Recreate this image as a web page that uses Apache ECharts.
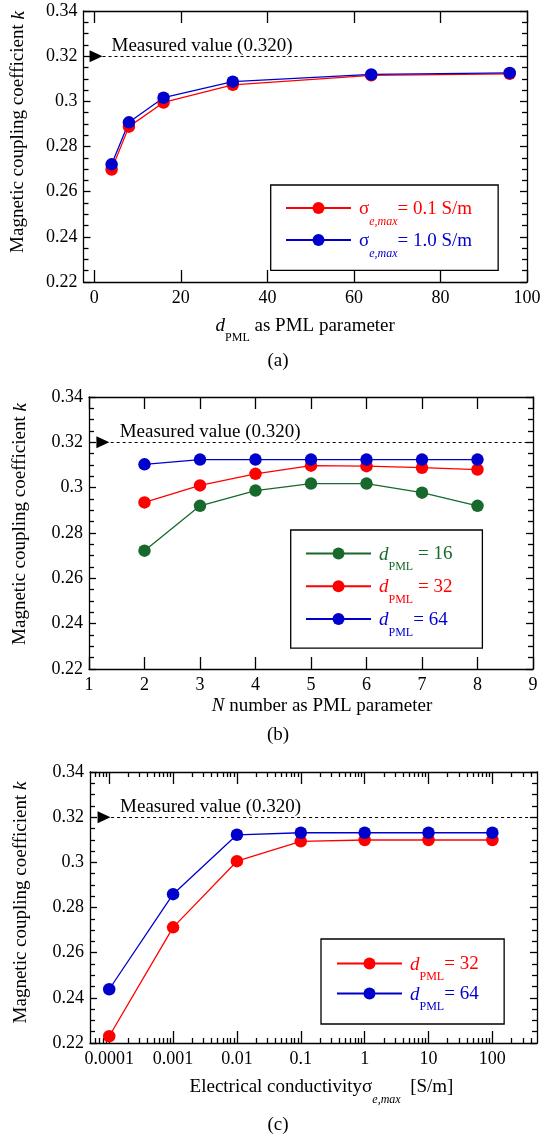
<!DOCTYPE html>
<html>
<head>
<meta charset="utf-8">
<script src="https://cdn.jsdelivr.net/npm/echarts@6/dist/echarts.min.js"></script>
<style>
  html, body { margin: 0; padding: 0; background: #ffffff; }
  #chart { width: 546px; height: 1139px; }
</style>
</head>
<body>
<div id="chart"></div>
<script>
// ---- (a) coupling coefficient against PML thickness d_PML ----
const dPml = [4, 8, 16, 32, 64, 96];
const kSigma01 = [0.2698, 0.2888, 0.2995, 0.3073, 0.3115, 0.3122];
const kSigma10 = [0.2721, 0.2907, 0.3016, 0.3087, 0.3119, 0.3126];
const dPmlTicks = [0, 20, 40, 60, 80, 100];
const dPmlTickLabels = ['0', '20', '40', '60', '80', '100'];

// ---- (b) coupling coefficient against PML order N ----
const nOrder = [2, 3, 4, 5, 6, 7, 8];
const kN_d16 = [0.2722, 0.2920, 0.2987, 0.3018, 0.3018, 0.2978, 0.2920];
const kN_d32 = [0.2935, 0.3010, 0.3061, 0.3097, 0.3095, 0.3088, 0.3080];
const kN_d64 = [0.3103, 0.3124, 0.3124, 0.3124, 0.3124, 0.3124, 0.3124];
const nTicks = [1, 2, 3, 4, 5, 6, 7, 8, 9];
const nTickLabels = ['1', '2', '3', '4', '5', '6', '7', '8', '9'];

// ---- (c) coupling coefficient against maximum conductivity ----
const sigmaMax = [0.0001, 0.001, 0.01, 0.1, 1, 10, 100];
const kS_d32 = [0.2230, 0.2712, 0.3005, 0.3093, 0.3099, 0.3099, 0.3099];
const kS_d64 = [0.2438, 0.2859, 0.3122, 0.3131, 0.3131, 0.3131, 0.3131];
const sigmaTicks = [0.0001, 0.001, 0.01, 0.1, 1, 10, 100];
const sigmaTickLabels = ['0.0001', '0.001', '0.01', '0.1', '1', '10', '100'];

// ---- shared k axis and the measured reference ----
const kTicks = [0.22, 0.24, 0.26, 0.28, 0.30, 0.32, 0.34];
const kTickLabels = ['0.22', '0.24', '0.26', '0.28', '0.3', '0.32', '0.34'];
const MEASURED_K = 0.320;

// ---- styling ----
const FONT = 'Liberation Serif';
const BLACK = '#000000';
const RED = '#ff0000';
const BLUE = '#0000cc';
const GREEN = '#17692c';
const AXIS_W = 1.3;
const COLORS = { r: RED, b: BLUE, g: GREEN };

const chart = echarts.init(document.getElementById('chart'), null, { renderer: 'canvas' });

function pick(labels, ticks) {
  return function (v) {
    const i = ticks.findIndex(t => Math.abs(t - v) <= Math.abs(t) * 1e-6 + 1e-12);
    return i < 0 ? '' : labels[i];
  };
}

// rich-text tokens: main size text and a lowered subscript
function nameRich(subPad) {
  const main = { color: BLACK, fontFamily: FONT, fontSize: 19, height: 22, verticalAlign: 'top' };
  const sub = { color: BLACK, fontFamily: FONT, fontSize: 12, height: 13, verticalAlign: 'top', padding: [subPad, 0, 0, 0] };
  return {
    n: main,
    i: Object.assign({}, main, { fontStyle: 'italic' }),
    sub: sub,
    subi: Object.assign({}, sub, { fontStyle: 'italic' })
  };
}

function legendRich() {
  const rich = {};
  Object.keys(COLORS).forEach(function (k) {
    const c = COLORS[k];
    const main = { color: c, fontFamily: FONT, fontSize: 19, height: 22, verticalAlign: 'top', padding: [10, 0, 0, 0] };
    const sub = { color: c, fontFamily: FONT, fontSize: 12, height: 13, verticalAlign: 'top', padding: [27, 0, 0, 0] };
    rich['m_' + k] = main;
    rich['lead_' + k] = Object.assign({}, main, { padding: [10, 0, 0, 3] });
    rich['leadI_' + k] = Object.assign({}, main, { fontStyle: 'italic', padding: [10, 0, 0, 3] });
    rich['s_' + k] = sub;
    rich['si_' + k] = Object.assign({}, sub, { fontStyle: 'italic' });
  });
  return rich;
}

const LEGEND_TEXT = {
  'sig01': '{lead_r|σ}{si_r|e,max}{m_r|= 0.1 S/m}',
  'sig10': '{lead_b|σ}{si_b|e,max}{m_b|= 1.0 S/m}',
  'n16': '{leadI_g|d}{s_g|PML}{m_g| = 16}',
  'n32': '{leadI_r|d}{s_r|PML}{m_r| = 32}',
  'n64': '{leadI_b|d}{s_b|PML}{m_b|= 64}',
  's32': '{leadI_r|d}{s_r|PML}{m_r|= 32}',
  's64': '{leadI_b|d}{s_b|PML}{m_b|= 64}'
};

const GRIDS = [
  { left: 83.5, top: 11, width: 443.5, height: 271 },
  { left: 89, top: 397, width: 444, height: 272 },
  { left: 90, top: 772, width: 447, height: 271 }
];

const lineStyleAxis = { color: BLACK, width: AXIS_W };
const tickLabelStyle = { color: BLACK, fontFamily: FONT, fontSize: 18 };

function xAxisPair(gridIndex, scale, ticks, labels, name, nameGap, namePadLeft, subPad) {
  const base = Object.assign({
    gridIndex: gridIndex,
    axisLine: { show: true, onZero: false, lineStyle: lineStyleAxis },
    axisTick: { show: true, inside: true, length: 12, lineStyle: lineStyleAxis, customValues: ticks },
    splitLine: { show: false },
    minorSplitLine: { show: false }
  }, scale);
  if (scale.type === 'log') {
    base.minorTick = { show: true, splitNumber: 9, length: 5, lineStyle: lineStyleAxis };
  }
  const bottom = Object.assign({}, base, {
    position: 'bottom',
    axisLabel: Object.assign({ show: true, margin: 7, customValues: ticks, formatter: pick(labels, ticks) }, tickLabelStyle),
    name: name,
    nameLocation: 'middle',
    nameGap: nameGap,
    nameTextStyle: { padding: [0, 0, 0, namePadLeft], rich: nameRich(subPad) }
  });
  const top = Object.assign({}, base, { position: 'top', axisLabel: { show: false } });
  return [bottom, top];
}

function yAxisPair(gridIndex, nameGap, namePadLeft) {
  const base = {
    type: 'value',
    gridIndex: gridIndex,
    min: 0.22,
    max: 0.34,
    interval: 0.02,
    axisLine: { show: true, onZero: false, lineStyle: lineStyleAxis },
    axisTick: { show: true, inside: true, length: 7, lineStyle: lineStyleAxis },
    minorTick: { show: true, splitNumber: 4, length: 5, lineStyle: lineStyleAxis },
    splitLine: { show: false },
    minorSplitLine: { show: false }
  };
  const left = Object.assign({}, base, {
    position: 'left',
    axisLabel: Object.assign({ show: true, margin: 6, customValues: kTicks, formatter: pick(kTickLabels, kTicks) }, tickLabelStyle),
    name: '{n|Magnetic coupling coefficient }{i|k}',
    nameLocation: 'middle',
    nameRotate: 90,
    nameGap: nameGap,
    nameTextStyle: { padding: [0, 0, 0, namePadLeft], rich: nameRich(0) }
  });
  const right = Object.assign({}, base, { position: 'right', axisLabel: { show: false } });
  return [left, right];
}

function lineSeries(name, panel, xs, ys, color) {
  return {
    name: name,
    type: 'line',
    xAxisIndex: 2 * panel,
    yAxisIndex: 2 * panel,
    data: xs.map((x, i) => [x, ys[i]]),
    symbol: 'circle',
    symbolSize: 12.5,
    showSymbol: true,
    color: color,
    itemStyle: { color: color, borderWidth: 0 },
    lineStyle: { color: color, width: 1.3 },
    emphasis: { disabled: true },
    silent: true,
    z: 3
  };
}

// dashed reference line with its arrow head and caption
function measuredMarks(arrowCenterX, arrowTipX, xEnd) {
  return {
    markLine: {
      silent: true,
      symbol: ['none', 'none'],
      lineStyle: { color: BLACK, width: 1, type: [3, 3] },
      label: {
        show: true,
        position: 'insideStartTop',
        distance: [9, 1],
        formatter: 'Measured value (' + MEASURED_K.toFixed(3) + ')',
        color: BLACK,
        fontFamily: FONT,
        fontSize: 19
      },
      emphasis: { disabled: true },
      data: [[{ coord: [arrowTipX, MEASURED_K] }, { coord: [xEnd, MEASURED_K] }]]
    },
    markPoint: {
      silent: true,
      symbol: 'triangle',
      symbolRotate: -90,
      symbolSize: [12, 13],
      itemStyle: { color: BLACK },
      label: { show: false },
      data: [{ coord: [arrowCenterX, MEASURED_K] }]
    }
  };
}

function legendBox(names, left, top, padding, gap) {
  return {
    orient: 'vertical',
    left: left,
    top: top,
    data: names,
    selectedMode: false,
    itemWidth: 65,
    itemHeight: 15,
    itemGap: gap,
    padding: padding,
    borderColor: BLACK,
    borderWidth: 1.3,
    borderRadius: 0,
    backgroundColor: '#ffffff',
    formatter: name => LEGEND_TEXT[name],
    textStyle: { fontFamily: FONT, fontSize: 19, rich: legendRich() }
  };
}

const xAxes = []
  .concat(xAxisPair(0, { type: 'value', min: -2.5, max: 100 }, dPmlTicks, dPmlTickLabels,
    '{i|d}{sub|PML}{n| as PML parameter}', 33, 0, 16))
  .concat(xAxisPair(1, { type: 'value', min: 1, max: 9, interval: 1 }, nTicks, nTickLabels,
    '{i|N}{n| number as PML parameter}', 26, 22, 16))
  .concat(xAxisPair(2, { type: 'log', logBase: 10, min: 0.00005, max: 500 }, sigmaTicks, sigmaTickLabels,
    '{n|Electrical conductivity}{n|σ}{subi|e,max}{n|  [S/m]}', 33, 16, 17.5));

const yAxes = []
  .concat(yAxisPair(0, 54, 29))
  .concat(yAxisPair(1, 57.5, 18))
  .concat(yAxisPair(2, 58, 10));

const seriesA1 = Object.assign(lineSeries('sig01', 0, dPml, kSigma01, RED), measuredMarks(0.4, 1.9, 100));
const seriesA2 = lineSeries('sig10', 0, dPml, kSigma10, BLUE);
const seriesB1 = Object.assign(lineSeries('n16', 1, nOrder, kN_d16, GREEN), measuredMarks(1.25, 1.39, 9));
const seriesB2 = lineSeries('n32', 1, nOrder, kN_d32, RED);
const seriesB3 = lineSeries('n64', 1, nOrder, kN_d64, BLUE);
const seriesC1 = Object.assign(lineSeries('s32', 2, sigmaMax, kS_d32, RED), measuredMarks(0.000083, 0.000107, 500));
const seriesC2 = lineSeries('s64', 2, sigmaMax, kS_d64, BLUE);

const captionStyle = { color: BLACK, fontFamily: FONT, fontSize: 19, fontWeight: 'normal', lineHeight: 20 };

chart.setOption({
  animation: false,
  backgroundColor: '#ffffff',
  textStyle: { fontFamily: FONT, color: BLACK },
  title: [
    { text: '(a)', left: 267.5, top: 351, padding: 0, textStyle: captionStyle },
    { text: '(b)', left: 267, top: 725, padding: 0, textStyle: captionStyle },
    { text: '(c)', left: 267.5, top: 1115, padding: 0, textStyle: captionStyle }
  ],
  grid: GRIDS.map(g => Object.assign({ containLabel: false, outerBoundsMode: 'none', show: false }, g)),
  xAxis: xAxes,
  yAxis: yAxes,
  legend: [
    legendBox(['sig01', 'sig10'], 270.7, 185, [14.6, 26, 10.7, 14.3], 4),
    legendBox(['n16', 'n32', 'n64'], 290.7, 530, [15, 30, 9.7, 14.3], 4.7),
    legendBox(['s32', 's64'], 321, 939, [16, 25.5, 11, 15], 2)
  ],
  series: [seriesA1, seriesA2, seriesB1, seriesB2, seriesB3, seriesC1, seriesC2]
});
</script>
</body>
</html>
